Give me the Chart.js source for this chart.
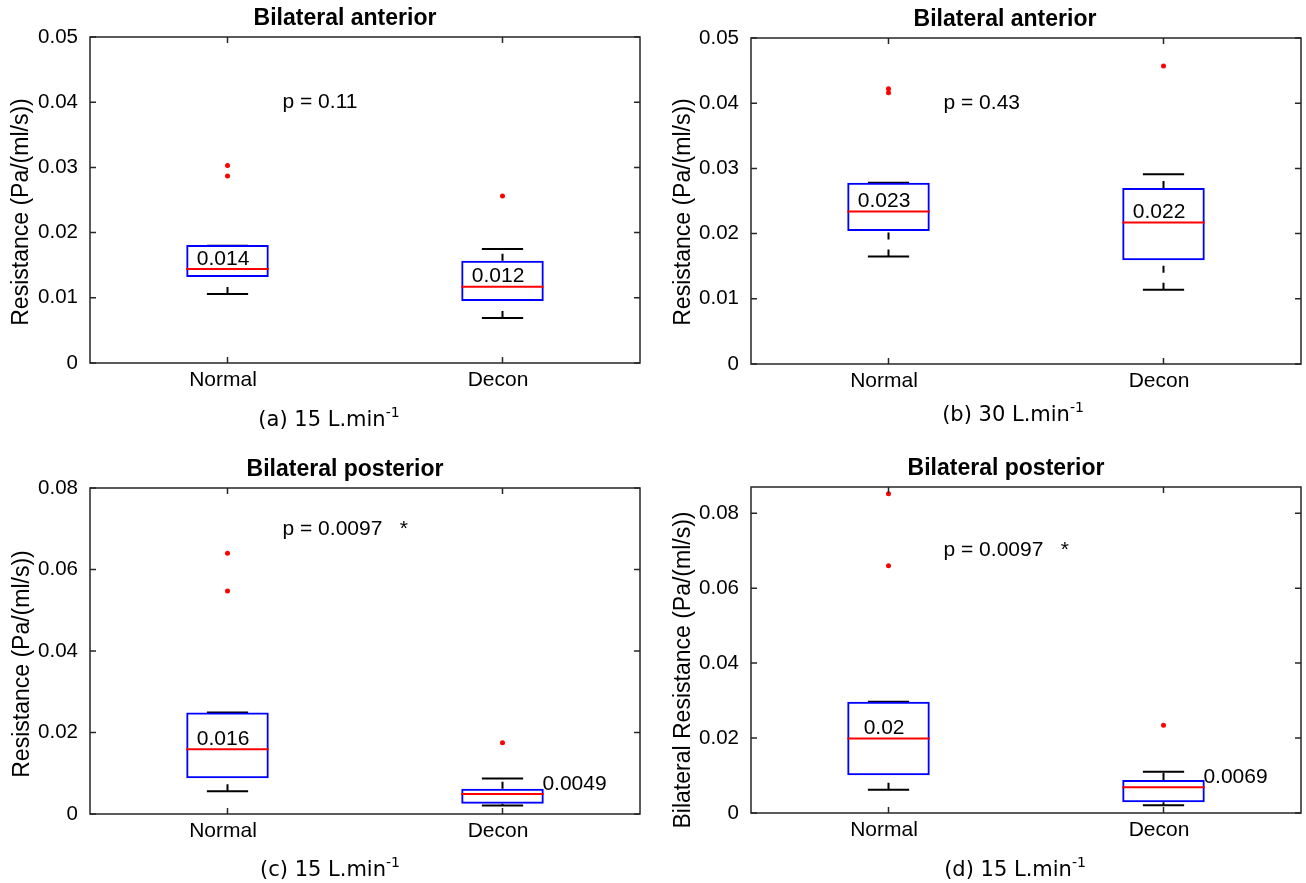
<!DOCTYPE html>
<html>
<head>
<meta charset="utf-8">
<script src="https://cdn.jsdelivr.net/npm/chart.js@4.4.1/dist/chart.umd.min.js"></script>
<style>
  html, body { margin: 0; padding: 0; background: #fff; }
  #wrap { position: relative; width: 1306px; height: 883px; overflow: hidden; }
  canvas { position: absolute; }
</style>
</head>
<body>
<div id="wrap">
  <canvas id="panelA" width="653" height="441" style="left:0;top:0;width:653px;height:441px"></canvas>
  <canvas id="panelB" width="653" height="441" style="left:653px;top:0;width:653px;height:441px"></canvas>
  <canvas id="panelC" width="653" height="442" style="left:0;top:441px;width:653px;height:442px"></canvas>
  <canvas id="panelD" width="653" height="442" style="left:653px;top:441px;width:653px;height:442px"></canvas>
</div>
<script>
// ----------- Data -----------
const categories = ['Normal', 'Decon'];
const positions = [1, 2];

const ticksAB = [0, 0.01, 0.02, 0.03, 0.04, 0.05];
const tickLabelsAB = ['0', '0.01', '0.02', '0.03', '0.04', '0.05'];
const ticksCD = [0, 0.02, 0.04, 0.06, 0.08];
const tickLabelsCD = ['0', '0.02', '0.04', '0.06', '0.08'];

// (a) anterior, 15 L/min
const aQ1 = [0.0132, 0.0095];
const aQ3 = [0.0181, 0.0157];
const aMed = [0.0144, 0.0117];
const aLow = [0.0106, 0.0069];
const aHigh = [0.0180, 0.0175];
const aOutNormal = [0.0303, 0.0287];
const aOutDecon = [0.0256];
const aMedLabels = ['0.014', '0.012'];

// (b) anterior, 30 L/min
const bQ1 = [0.0204, 0.0159];
const bQ3 = [0.0278, 0.0270];
const bMed = [0.0234, 0.0217];
const bLow = [0.0165, 0.0114];
const bHigh = [0.0278, 0.0291];
const bOutNormal = [0.0422, 0.0416];
const bOutDecon = [0.0457];
const bMedLabels = ['0.023', '0.022'];

// (c) posterior, 15 L/min
const cQ1 = [0.0088, 0.0025];
const cQ3 = [0.0249, 0.0062];
const cMed = [0.0159, 0.0049];
const cLow = [0.0056, 0.0021];
const cHigh = [0.0249, 0.0087];
const cOutNormal = [0.0640, 0.0547];
const cOutDecon = [0.0175];
const cMedLabels = ['0.016', '0.0049'];

// (d) posterior, 15 L/min
const dQ1 = [0.0101, 0.0029];
const dQ3 = [0.0297, 0.0088];
const dMed = [0.0199, 0.0069];
const dLow = [0.0062, 0.0021];
const dHigh = [0.0297, 0.0110];
const dOutNormal = [0.0852, 0.0660];
const dOutDecon = [0.0234];
const dMedLabels = ['0.02', '0.0069'];

// ----------- Styles -----------
const fontMain = "'Liberation Sans', Arial, Helvetica, sans-serif";
const fontCap = "'DejaVu Sans', Verdana, sans-serif";
const BOX_HALF = 0.15;
const CAP_HALF = 0.075;

Chart.defaults.font.family = fontMain;
Chart.defaults.color = '#000';

// ----------- Decorations: frame, inward ticks, texts -----------
const panelDecor = {
  id: 'panelDecor',
  afterDraw(chart, args, o) {
    const { ctx, chartArea: ca, scales: { x, y } } = chart;
    ctx.save();
    ctx.strokeStyle = '#262626';
    ctx.lineWidth = 1.5;
    ctx.strokeRect(ca.left, ca.top, ca.right - ca.left, ca.bottom - ca.top);
    ctx.beginPath();
    y.ticks.forEach(t => {
      const py = y.getPixelForValue(t.value);
      ctx.moveTo(ca.left, py); ctx.lineTo(ca.left + 6, py);
      ctx.moveTo(ca.right, py); ctx.lineTo(ca.right - 6, py);
    });
    x.ticks.forEach(t => {
      const px = x.getPixelForValue(t.value);
      ctx.moveTo(px, ca.bottom); ctx.lineTo(px, ca.bottom - 6);
      ctx.moveTo(px, ca.top); ctx.lineTo(px, ca.top + 6);
    });
    ctx.stroke();

    ctx.fillStyle = '#000';
    // title
    ctx.font = `bold 23px ${fontMain}`;
    ctx.textAlign = 'center';
    ctx.textBaseline = 'middle';
    ctx.fillText(o.title, o.titlePos[0], o.titlePos[1]);

    // y label
    ctx.save();
    ctx.translate(o.ylabelPos[0], o.ylabelPos[1]);
    ctx.rotate(-Math.PI / 2);
    ctx.font = `23px ${fontMain}`;
    ctx.fillText(o.ylabel, 0, 0);
    ctx.restore();

    // caption with superscript
    ctx.font = `21px ${fontCap}`;
    const w1 = ctx.measureText(o.caption).width;
    ctx.font = `14px ${fontCap}`;
    const w2 = ctx.measureText('-1').width;
    const x0 = o.capPos[0] - (w1 + w2) / 2;
    ctx.textAlign = 'left';
    ctx.font = `21px ${fontCap}`;
    ctx.fillText(o.caption, x0, o.capPos[1]);
    ctx.font = `14px ${fontCap}`;
    ctx.fillText('-1', x0 + w1, o.capPos[1] - 8);

    // p value
    ctx.font = `21px ${fontMain}`;
    ctx.textAlign = 'left';
    ctx.fillText(o.pText, x.getPixelForValue(o.pPos[0]), y.getPixelForValue(o.pPos[1]));

    // median labels
    ctx.textBaseline = 'alphabetic';
    o.medLabels.forEach((lab, i) => {
      const py = y.getPixelForValue(o.med[i]) - 4.5;
      if (o.medSide[i] === 'right') {
        ctx.textAlign = 'left';
        ctx.fillText(lab, x.getPixelForValue(positions[i] + BOX_HALF - 0.005), py);
      } else {
        ctx.textAlign = 'center';
        ctx.fillText(lab, x.getPixelForValue(positions[i] - 0.016), py);
      }
    });
    ctx.restore();
  }
};

// ----------- Build one box plot panel -----------
const makePanel = (p) => {
  const outliers = [
    ...p.outNormal.map(v => ({ x: positions[0], y: v })),
    ...p.outDecon.map(v => ({ x: positions[1], y: v }))
  ];
  const medianLines = positions.flatMap((c, i) => [
    { x: c - BOX_HALF, y: p.med[i] }, { x: c + BOX_HALF, y: p.med[i] }, { x: c, y: null }
  ]);
  const caps = positions.flatMap((c, i) => [
    { x: c - CAP_HALF, y: p.high[i] }, { x: c + CAP_HALF, y: p.high[i] }, { x: c, y: null },
    { x: c - CAP_HALF, y: p.low[i] }, { x: c + CAP_HALF, y: p.low[i] }, { x: c, y: null }
  ]);
  const whiskers = positions.flatMap((c, i) => [
    { x: c, y: p.low[i] }, { x: c, y: p.q1[i] }, { x: c, y: null },
    { x: c, y: p.q3[i] }, { x: c, y: p.high[i] }, { x: c, y: null }
  ]);
  const boxes = positions.map((c, i) => ({ x: c, y: [p.q1[i], p.q3[i]] }));

  new Chart(document.getElementById(p.id), {
    type: 'scatter',
    data: {
      datasets: [
        { type: 'scatter', data: outliers, pointRadius: 2.5, pointBackgroundColor: '#ff0000',
          pointBorderWidth: 0, order: 0 },
        { type: 'line', data: medianLines, borderColor: '#ff0000', borderWidth: 2,
          pointRadius: 0, spanGaps: false, order: 1 },
        { type: 'bar', data: boxes, backgroundColor: 'rgba(0,0,0,0)', borderColor: '#0000ff',
          borderWidth: 2, borderSkipped: false, barPercentage: BOX_HALF * 2, categoryPercentage: 1,
          order: 2 },
        { type: 'line', data: caps, borderColor: '#000', borderWidth: 2,
          pointRadius: 0, spanGaps: false, order: 3 },
        { type: 'line', data: whiskers, borderColor: '#000', borderWidth: 2, borderDash: [7, 10],
          pointRadius: 0, spanGaps: false, order: 4 }
      ]
    },
    options: {
      responsive: false,
      animation: false,
      devicePixelRatio: 1,
      layout: { padding: { top: p.layout.top, right: p.layout.right, left: 0, bottom: 0 } },
      plugins: {
        legend: { display: false },
        tooltip: { enabled: false },
        panelDecor: {
          title: p.title, titlePos: p.titlePos,
          ylabel: p.ylabel, ylabelPos: p.ylabelPos,
          caption: p.caption, capPos: p.capPos,
          pText: p.pText, pPos: p.pPos,
          med: p.med, medLabels: p.medLabels, medSide: p.medSide
        }
      },
      scales: {
        x: {
          type: 'linear', min: 0.5, max: 2.5, offset: false,
          grid: { display: false, drawTicks: false },
          border: { display: false },
          afterBuildTicks: s => { s.ticks = positions.map(v => ({ value: v })); },
          afterFit: s => { s.height = p.layout.bottom; },
          ticks: { font: { size: 21 }, color: '#000', padding: 5, labelOffset: -4.5,
            maxRotation: 0, autoSkip: false, callback: (v, i) => categories[i] }
        },
        y: {
          type: 'linear', min: 0, max: p.yMax,
          grid: { display: false, drawTicks: false },
          border: { display: false },
          afterBuildTicks: s => { s.ticks = p.yTicks.map(v => ({ value: v })); },
          afterFit: s => { s.width = p.layout.left; },
          ticks: { font: { size: 20.5 }, color: '#000', padding: 12, autoSkip: false,
            callback: (v, i) => p.yTickLabels[i] }
        }
      }
    },
    plugins: [panelDecor]
  });
};

makePanel({
  id: 'panelA', q1: aQ1, q3: aQ3, med: aMed, low: aLow, high: aHigh,
  outNormal: aOutNormal, outDecon: aOutDecon, medLabels: aMedLabels, medSide: ['center', 'center'],
  yMax: 0.05, yTicks: ticksAB, yTickLabels: tickLabelsAB,
  layout: { left: 90, right: 13, top: 37, bottom: 78 },
  title: 'Bilateral anterior', titlePos: [345, 19],
  ylabel: 'Resistance (Pa/(ml/s))', ylabelPos: [22, 212],
  caption: '(a) 15 L.min', capPos: [329, 421],
  pText: 'p = 0.11', pPos: [1.2, 0.04]
});

makePanel({
  id: 'panelB', q1: bQ1, q3: bQ3, med: bMed, low: bLow, high: bHigh,
  outNormal: bOutNormal, outDecon: bOutDecon, medLabels: bMedLabels, medSide: ['center', 'center'],
  yMax: 0.05, yTicks: ticksAB, yTickLabels: tickLabelsAB,
  layout: { left: 98, right: 5, top: 38, bottom: 77 },
  title: 'Bilateral anterior', titlePos: [352, 20],
  ylabel: 'Resistance (Pa/(ml/s))', ylabelPos: [31, 212],
  caption: '(b) 30 L.min', capPos: [360, 416],
  pText: 'p = 0.43', pPos: [1.2, 0.04]
});

makePanel({
  id: 'panelC', q1: cQ1, q3: cQ3, med: cMed, low: cLow, high: cHigh,
  outNormal: cOutNormal, outDecon: cOutDecon, medLabels: cMedLabels, medSide: ['center', 'right'],
  yMax: 0.08, yTicks: ticksCD, yTickLabels: tickLabelsCD,
  layout: { left: 90, right: 13, top: 47, bottom: 69 },
  title: 'Bilateral posterior', titlePos: [345, 29],
  ylabel: 'Resistance (Pa/(ml/s))', ylabelPos: [23, 223],
  caption: '(c) 15 L.min', capPos: [330, 430],
  pText: 'p = 0.0097   *', pPos: [1.2, 0.07]
});

makePanel({
  id: 'panelD', q1: dQ1, q3: dQ3, med: dMed, low: dLow, high: dHigh,
  outNormal: dOutNormal, outDecon: dOutDecon, medLabels: dMedLabels, medSide: ['center', 'right'],
  yMax: 0.087, yTicks: ticksCD, yTickLabels: tickLabelsCD,
  layout: { left: 98, right: 5, top: 46, bottom: 70 },
  title: 'Bilateral posterior', titlePos: [353, 28],
  ylabel: 'Bilateral Resistance (Pa/(ml/s))', ylabelPos: [31, 229],
  caption: '(d) 15 L.min', capPos: [362, 430],
  pText: 'p = 0.0097   *', pPos: [1.2, 0.07]
});
</script>
</body>
</html>
